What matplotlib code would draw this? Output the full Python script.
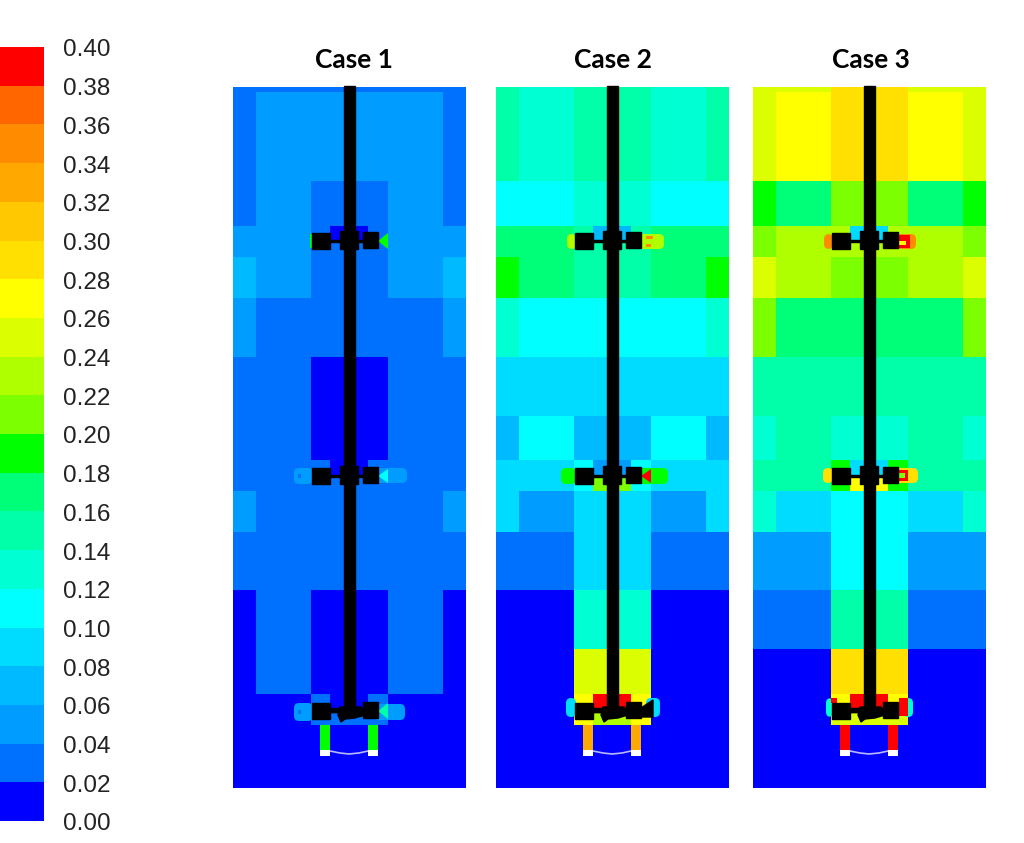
"""
Contour panels of the three stirred-tank cases with a shared stepped colour bar.
"""

import numpy as np
import matplotlib.pyplot as plt
from matplotlib.cm import ScalarMappable
from matplotlib.colors import BoundaryNorm, ListedColormap
from matplotlib.patches import FancyBboxPatch, Polygon, Rectangle
from matplotlib.transforms import ScaledTranslation

W, H = 1024, 843

CASE_NAMES = ["Case 1", "Case 2", "Case 3"]
LEVELS = np.round(np.arange(0, 0.401, 0.02), 2)
BAND_COLORS = [
    "#0000ff", "#0070ff", "#009cff", "#00baff", "#00dcff",
    "#00ffff", "#00ffd2", "#00ffa8", "#00ff78", "#00ff00",
    "#7cff00", "#b0ff00", "#dcff00", "#ffff00", "#ffe000",
    "#ffc800", "#ffa800", "#ff8c00", "#ff6600", "#ff0000",
]

# grid of the contour cells, columns are mirrored around the shaft
COL_EDGES = [0, 23, 78, 155, 210, 233]
ROW_EDGES = [87, 92, 181, 226, 257, 298, 357, 416, 460, 491, 532, 590, 649, 694, 725, 788]

# outer, middle, centre column for each row, top to bottom
CASE1 = [
    [0.03, 0.03, 0.03], [0.03, 0.05, 0.05], [0.03, 0.05, 0.03], [0.05, 0.05, 0.03],
    [0.07, 0.05, 0.03], [0.05, 0.03, 0.03], [0.03, 0.03, 0.01], [0.03, 0.03, 0.01],
    [0.03, 0.03, 0.03], [0.05, 0.03, 0.03], [0.03, 0.03, 0.03], [0.01, 0.03, 0.01],
    [0.01, 0.03, 0.01], [0.01, 0.01, 0.03], [0.01, 0.01, 0.01],
]
CASE2 = [
    [0.15, 0.13, 0.15], [0.15, 0.13, 0.15], [0.11, 0.11, 0.13], [0.17, 0.17, 0.15],
    [0.19, 0.17, 0.15], [0.13, 0.11, 0.11], [0.09, 0.09, 0.09], [0.07, 0.11, 0.07],
    [0.09, 0.09, 0.11], [0.09, 0.05, 0.09], [0.03, 0.03, 0.09], [0.01, 0.01, 0.13],
    [0.01, 0.01, 0.25], [0.01, 0.01, 0.27], [0.01, 0.01, 0.01],
]
CASE3 = [
    [0.25, 0.25, 0.29], [0.25, 0.27, 0.29], [0.19, 0.17, 0.21], [0.21, 0.23, 0.23],
    [0.25, 0.23, 0.21], [0.21, 0.17, 0.17], [0.15, 0.15, 0.15], [0.13, 0.15, 0.13],
    [0.15, 0.15, 0.19], [0.13, 0.09, 0.11], [0.05, 0.05, 0.11], [0.03, 0.03, 0.15],
    [0.01, 0.01, 0.29], [0.01, 0.01, 0.27], [0.01, 0.01, 0.01],
]
CASES = [CASE1, CASE2, CASE3]

# (x0, y0, x1, y1, value) patches of the local field next to the impellers
RECTS = [
    [(97, 226, 135, 240, 0.01), (97, 460, 135, 476, 0.01), (97, 694, 135, 708, 0.01)],
    [(97, 226, 135, 240, 0.07), (97, 460, 135, 476, 0.05), (97, 476, 135, 491, 0.21),
     (97, 694, 135, 708, 0.39), (97, 708, 135, 725, 0.23)],
    [(97, 226, 135, 240, 0.09), (97, 460, 135, 476, 0.09), (97, 476, 135, 491, 0.27),
     (78, 460, 97, 491, 0.19), (135, 460, 155, 491, 0.19),
     (97, 694, 135, 708, 0.39), (78, 708, 155, 725, 0.25)],
]
# (x0, y0, x1, y1, value) rounded blobs at the blade tips
BLOBS = [
    [(61, 468, 80, 484, 0.05), (140, 468, 174, 483, 0.05), (61, 703, 80, 721, 0.05), (140, 704, 172, 720, 0.05)],
    [(71, 234, 80, 249, 0.23), (140, 234, 168, 249, 0.23), (65, 468, 80, 484, 0.19), (140, 468, 172, 484, 0.19),
     (70, 698, 80, 717, 0.09), (150, 698, 164, 717, 0.09)],
    [(71, 234, 80, 249, 0.35), (140, 234, 163, 249, 0.35), (70, 468, 80, 483, 0.29), (140, 468, 165, 483, 0.29),
     (73, 698, 80, 717, 0.13), (150, 698, 160, 717, 0.13)],
]
# small (x0, y0, x1, y1, value) details on top of the blobs
SPOTS = [
    [(65, 474, 68, 478, 0.03), (65, 710, 68, 714, 0.03), (77, 234, 78.5, 248, 0.19)],
    [(150, 236, 157, 239, 0.35), (150, 244, 155, 247, 0.35)],
    [(145, 235, 157, 248, 0.39), (146, 241, 153, 245, 0.27), (145, 470, 155, 481, 0.39), (146, 473, 152, 478, 0.21),
     (78, 698, 84, 703, 0.39), (146, 698, 155, 716, 0.39)],
]
# triangles (tip x, base x, y centre, half height, value)
TIPS = [
    [(145, 155, 241, 8, 0.19), (145, 155, 476, 7, 0.11), (145, 155, 711, 8, 0.15)],
    [(145, 155, 476, 7, 0.39)],
    [],
]
LEG_VALUES = [0.19, 0.33, 0.39]


def band_color(value):
    return BAND_COLORS[min(int(value / 0.02), 19)]


def draw_impeller(ax, y, lower=False, extra_lump=False):
    for x0, x1, dy in [(79, 97, 0), (130, 145, -1)]:
        ax.add_patch(Rectangle((x0, y - 8 + dy), x1 - x0, 16, color="black", zorder=4))
    ax.add_patch(Rectangle((97, y - 1.5), 33, 2.5, color="black", zorder=4))
    if lower:
        hub = [(107, y - 4), (128, y - 4), (132, y + 4), (122, y + 7), (112, y + 8), (108, y + 11), (105, y + 4)]
        ax.add_patch(Polygon(hub, color="black", zorder=4))
        ax.add_patch(Rectangle((97, y - 3), 33, 4, color="black", zorder=4))
    else:
        ax.add_patch(Rectangle((107, y - 10), 18, 18, color="black", zorder=4))
    if extra_lump:
        ax.add_patch(Polygon([(145, y - 3), (157, y - 11), (157, y + 6), (145, y + 6)], color="black", zorder=4))


def rounded(x0, y0, x1, y1, color):
    return FancyBboxPatch((x0 + 5, y0 + 5), x1 - x0 - 10, y1 - y0 - 10, boxstyle="round,pad=5",
                          color=color, lw=0, zorder=2)


def draw_panel(ax, values, rects, blobs, spots, tips, leg_value, extra_lump=False):
    rows = np.array(values)
    field = np.column_stack([rows[:, 0], rows[:, 1], rows[:, 2], rows[:, 1], rows[:, 0]])
    ax.pcolormesh(COL_EDGES, ROW_EDGES, field, cmap=CMAP, norm=NORM, zorder=1)

    for x0, y0, x1, y1, v in rects:
        ax.add_patch(Rectangle((x0, y0), x1 - x0, y1 - y0, color=band_color(v), lw=0, zorder=2))
    for x0, y0, x1, y1, v in blobs:
        ax.add_patch(rounded(x0, y0, x1, y1, band_color(v)))
    for tip, base, cy, hh, v in tips:
        tri = [(tip, cy), (base, cy - hh), (base, cy + hh)]
        ax.add_patch(Polygon(tri, color=band_color(v), lw=0, zorder=3))
    for x0, y0, x1, y1, v in spots:
        ax.add_patch(Rectangle((x0, y0), x1 - x0, y1 - y0, color=band_color(v), lw=0, zorder=3))

    # legs, feet and the thin curved sparger
    for x0 in (87, 135):
        ax.add_patch(Rectangle((x0, 725), 10, 26, color=band_color(leg_value), lw=0, zorder=2))
        ax.add_patch(Rectangle((x0, 750), 10, 6, color="white", lw=0, zorder=3))
    arc_x = np.array([97, 107, 116, 126, 135])
    ax.plot(arc_x, [751, 753, 754, 753, 751], color="#b8b8ff", lw=1.2, zorder=2)

    for y, lower in [(241, False), (476, False)]:
        draw_impeller(ax, y, lower)
    draw_impeller(ax, 711, True, extra_lump)
    ax.add_patch(Rectangle((111, 85.5), 11, 625, color="black", clip_on=False, zorder=5))

    ax.set_xlim(0, 233)
    ax.set_ylim(788, 87)
    ax.axis("off")


CMAP = ListedColormap(BAND_COLORS)
NORM = BoundaryNorm(LEVELS, CMAP.N)


def main():
    fig = plt.figure(figsize=(W / 100, H / 100), dpi=100)

    for i, (left, name, title_x) in enumerate(zip([233, 496, 753], CASE_NAMES, [354, 612.5, 871])):
        ax = fig.add_axes([left / W, 1 - 788 / H, 233 / W, 701 / H])
        draw_panel(ax, CASES[i], RECTS[i], BLOBS[i], SPOTS[i], TIPS[i], LEG_VALUES[i], extra_lump=i == 1)
        fig.text(title_x / W, 1 - 60 / H, name, family="Lato", weight="bold", fontsize=19,
                 ha="center", va="center")

    cax = fig.add_axes([0, 1 - 821 / H, 44 / W, 774 / H])
    cbar = fig.colorbar(ScalarMappable(norm=NORM, cmap=CMAP), cax=cax, ticks=LEVELS,
                        spacing="proportional", drawedges=False)
    cbar.outline.set_visible(False)
    cbar.ax.set_yticklabels([f"{v:.2f}" for v in LEVELS], family="Liberation Sans",
                            fontsize=17.5, color="#222222")
    cbar.ax.tick_params(length=0, pad=14)
    # labels sit about a pixel lower than the band edges in the original
    for label in cbar.ax.get_yticklabels():
        label.set_transform(label.get_transform() + ScaledTranslation(0, -1 / 100, fig.dpi_scale_trans))

    fig.savefig("out.png", dpi=100)


if __name__ == "__main__":
    main()
